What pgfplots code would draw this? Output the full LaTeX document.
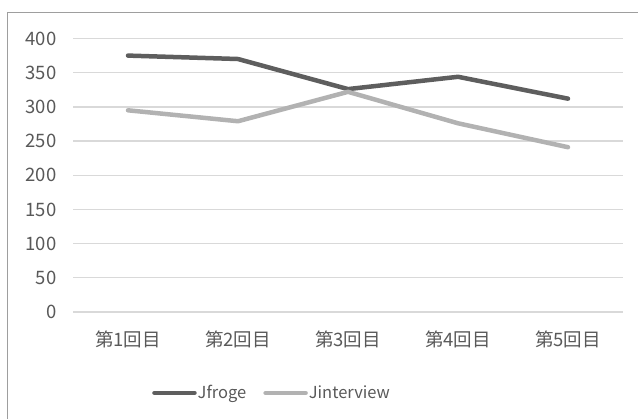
\documentclass[border=0pt]{standalone}
\usepackage{pgfplots}
\pgfplotsset{compat=1.18}
\usepackage{fontspec}
\setmainfont{Noto Sans CJK JP}

\definecolor{txt}{HTML}{595959}
\definecolor{gridc}{HTML}{D9D9D9}
\definecolor{frog}{HTML}{5E5E5E}
\definecolor{intv}{HTML}{B2B2B2}

\begin{document}
\begin{tikzpicture}[x=1bp,y=1bp]
\useasboundingbox (0,0) rectangle (638,419);
% chart area border (left and top edges)
\draw[color=black!38, line width=1.5bp] (7.5,0) -- (7.5,406.5) -- (640,406.5);
\begin{axis}[
  at={(73bp,107bp)}, anchor=south west,
  scale only axis, width=550bp, height=273.5bp,
  xmin=0.5, xmax=5.5, ymin=0, ymax=400,
  xtick={1,2,3,4,5},
  xticklabels={第1回目,第2回目,第3回目,第4回目,第5回目},
  ytick={0,50,...,400},
  axis line style={draw=none},
  major tick length=0pt,
  ymajorgrids, major grid style={color=gridc, line width=1.3bp},
  /pgf/number format/assume math mode=true,
  tick label style={font=\fontsize{18.5bp}{22bp}\selectfont, text=txt},
  yticklabel style={xshift=-13bp},
  xticklabel style={yshift=-15.5bp},
  legend columns=2,
  legend style={draw=none, fill=none, at={(0.361,-0.296)}, anchor=center,
    font=\fontsize{16.5bp}{20bp}\selectfont, text=txt,
    /tikz/every even column/.append style={column sep=16bp},
    nodes={inner sep=1bp}},
  legend image code/.code={\draw[#1, line width=4.5bp] (0bp,0bp) -- (40bp,0bp);},
]
\addplot[frog, line width=4.5bp, line join=round, line cap=round] coordinates {
  (1,375) (2,370) (3,326) (4,344) (5,312)};
\addlegendentry{Jfroge}
\addplot[intv, line width=4.5bp, line join=round, line cap=round] coordinates {
  (1,295) (2,279) (3,322) (4,276) (5,241)};
\addlegendentry{Jinterview}
\end{axis}
\end{tikzpicture}
\end{document}
